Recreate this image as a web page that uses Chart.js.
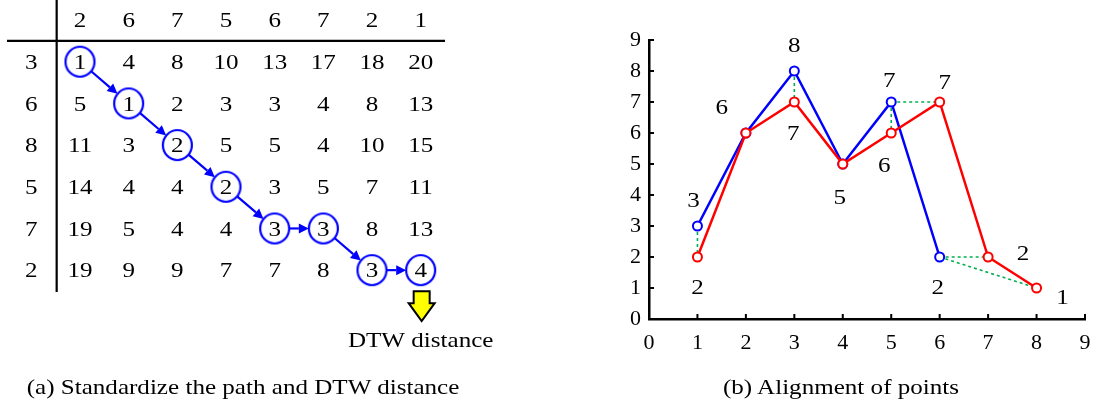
<!DOCTYPE html>
<html>
<head>
<meta charset="utf-8">
<script src="https://cdn.jsdelivr.net/npm/chart.js@4/dist/chart.umd.min.js"></script>
<style>
  html, body { margin: 0; padding: 0; background: #fff; }
  #wrap { position: relative; width: 1096px; height: 405px; overflow: hidden; background: #fff; }
  #dtwTable { position: absolute; left: 0; top: 0; }
  #alignChart { position: absolute; left: 600px; top: 0; }
  .caption {
    position: absolute; top: 373px; font-family: "Liberation Serif", "Times New Roman", serif;
    font-size: 22px; color: #000; white-space: nowrap; line-height: 28px;
    transform: translateX(-50%) scaleX(1.14); transform-origin: center;
  }
</style>
</head>
<body>
<div id="wrap">
  <canvas id="dtwTable" width="500" height="405"></canvas>
  <canvas id="alignChart" width="496" height="405"></canvas>
  <div class="caption" style="left:243px">(a) Standardize the path and DTW distance</div>
  <div class="caption" style="left:841px">(b) Alignment of points</div>
</div>
<script>
// Two sequences compared by dynamic time warping
const seriesA = [3, 6, 8, 5, 7, 2];          // rows of the matrix, blue line
const seriesB = [2, 6, 7, 5, 6, 7, 2, 1];    // columns of the matrix, red line

// Accumulated distance matrix, one array per row of seriesA
const costRow1 = [1, 4, 8, 10, 13, 17, 18, 20];
const costRow2 = [5, 1, 2, 3, 3, 4, 8, 13];
const costRow3 = [11, 3, 2, 5, 5, 4, 10, 15];
const costRow4 = [14, 4, 4, 2, 3, 5, 7, 11];
const costRow5 = [19, 5, 4, 4, 3, 3, 8, 13];
const costRow6 = [19, 9, 9, 7, 7, 8, 3, 4];
const costRows = [costRow1, costRow2, costRow3, costRow4, costRow5, costRow6];

// Warping path as [row, column] cells (1-based)
const pathRows = [1, 2, 3, 4, 5, 5, 6, 6];
const pathCols = [1, 2, 3, 4, 5, 6, 7, 8];

const axisTicks = [0, 1, 2, 3, 4, 5, 6, 7, 8, 9];
const resultLabel = 'DTW distance';

const SERIF = '"Liberation Serif", "Times New Roman", serif';
const TEXT_STRETCH = 1.14;
const BLUE = '#0000ff', RED = '#ff0000', GREEN = '#00b050';

function stretchedText(ctx, text, x, y, align) {
  ctx.save();
  ctx.translate(x, y);
  ctx.scale(TEXT_STRETCH, 1);
  ctx.textAlign = align || 'center';
  ctx.textBaseline = 'alphabetic';
  ctx.fillText(text, 0, 0);
  ctx.restore();
}

// ---------- (a) accumulated distance matrix ----------
const RX = 14.5, RY = 15;
function ellipseSprite() {
  const c = document.createElement('canvas');
  c.width = 2 * RX + 4; c.height = 2 * RY + 4;
  const g = c.getContext('2d');
  g.strokeStyle = BLUE; g.lineWidth = 2.2;
  g.beginPath();
  g.ellipse(c.width / 2, c.height / 2, RX, RY, 0, 0, Math.PI * 2);
  g.stroke();
  return c;
}

const matrixPlugin = {
  id: 'matrixPlugin',
  beforeDatasetsDraw(chart) {
    const { ctx, chartArea, scales: { x, y } } = chart;
    ctx.save();
    ctx.fillStyle = '#000';
    ctx.font = '22px ' + SERIF;
    const half = 7.3;
    // column headers (seriesB) and row headers (seriesA)
    seriesB.forEach((v, j) => stretchedText(ctx, String(v), x.getPixelForValue(j + 1), y.getPixelForValue(0) + half));
    seriesA.forEach((v, i) => stretchedText(ctx, String(v), x.getPixelForValue(0), y.getPixelForValue(i + 1) + half));
    costRows.forEach((row, i) => row.forEach((v, j) =>
      stretchedText(ctx, String(v), x.getPixelForValue(j + 1), y.getPixelForValue(i + 1) + half)));
    // separating rules
    ctx.strokeStyle = '#000'; ctx.lineWidth = 2.2;
    const vx = (x.getPixelForValue(0) + x.getPixelForValue(1)) / 2 + 1;
    const hy = (y.getPixelForValue(0) + y.getPixelForValue(1)) / 2;
    ctx.beginPath();
    ctx.moveTo(vx, chartArea.top); ctx.lineTo(vx, chartArea.bottom + 1);
    ctx.moveTo(chartArea.left, hy); ctx.lineTo(chartArea.right, hy);
    ctx.stroke();
    ctx.restore();
  },
  afterDatasetsDraw(chart) {
    const { ctx, scales: { x, y } } = chart;
    const pts = chart.getDatasetMeta(0).data;
    ctx.save();
    ctx.strokeStyle = BLUE; ctx.fillStyle = BLUE; ctx.lineWidth = 2.2;
    for (let k = 0; k + 1 < pts.length; k++) {
      const a = pts[k], b = pts[k + 1];
      let dx = b.x - a.x, dy = b.y - a.y;
      const len = Math.hypot(dx, dy); dx /= len; dy /= len;
      const t = 1 / Math.sqrt((dx / RX) ** 2 + (dy / RY) ** 2);
      const sx = a.x + dx * t, sy = a.y + dy * t;
      const ex = b.x - dx * t, ey = b.y - dy * t;
      const head = 10, w = 5;
      const bx = ex - dx * head, by = ey - dy * head;
      ctx.beginPath(); ctx.moveTo(sx, sy); ctx.lineTo(bx, by); ctx.stroke();
      ctx.beginPath();
      ctx.moveTo(ex, ey);
      ctx.lineTo(bx - dy * w, by + dx * w);
      ctx.lineTo(bx + dy * w, by - dx * w);
      ctx.closePath(); ctx.fill();
    }
    // block arrow pointing to the final accumulated distance
    const last = pts[pts.length - 1];
    const cx = last.x + 1, top = y.getPixelForValue(pathRows[pathRows.length - 1]) + 21;
    ctx.beginPath();
    ctx.moveTo(cx - 8, top); ctx.lineTo(cx + 8, top); ctx.lineTo(cx + 8, top + 12);
    ctx.lineTo(cx + 13, top + 12); ctx.lineTo(cx, top + 30); ctx.lineTo(cx - 13, top + 12);
    ctx.lineTo(cx - 8, top + 12); ctx.closePath();
    ctx.fillStyle = '#ffff00'; ctx.fill();
    ctx.strokeStyle = '#000'; ctx.lineWidth = 2; ctx.stroke();
    ctx.fillStyle = '#000'; ctx.font = '22px ' + SERIF;
    stretchedText(ctx, resultLabel, cx - 1, top + 56);
    ctx.restore();
  }
};

new Chart(document.getElementById('dtwTable'), {
  type: 'scatter',
  data: {
    datasets: [{
      data: pathRows.map((r, k) => ({ x: pathCols[k], y: r })),
      pointStyle: ellipseSprite(),
      pointRadius: 15,
      showLine: false,
      clip: false
    }]
  },
  options: {
    responsive: false, animation: false, devicePixelRatio: 1,
    layout: { autoPadding: false, padding: { left: 7, right: 55, top: 0, bottom: 114 } },
    plugins: { legend: { display: false }, tooltip: { enabled: false } },
    scales: {
      x: { type: 'linear', min: -0.5, max: 8.5, display: false },
      y: { type: 'linear', min: -0.48, max: 6.5, reverse: true, display: false }
    }
  },
  plugins: [matrixPlugin]
});

// ---------- (b) point alignment ----------
// label offsets in px relative to each point; null = no label
const labelOffsetsA = [[-4, -26], [-24, -26], [0, -26], [-3, 33], [-2, -22], [-2, 30]];
const labelOffsetsB = [[0, 30], null, [-1, 31], null, [-7, 32], [5, -20], [35, -4], [26, 9]];

const alignData = [];
pathRows.forEach((r, k) => {
  const c = pathCols[k];
  alignData.push({ x: r, y: seriesA[r - 1] }, { x: c, y: seriesB[c - 1] }, { x: c, y: null });
});

const tickPlugin = {
  id: 'tickPlugin',
  afterDraw(chart) {
    const { ctx, chartArea, scales: { x, y } } = chart;
    ctx.save();
    ctx.strokeStyle = '#000'; ctx.lineWidth = 2;
    ctx.beginPath();
    axisTicks.forEach(v => {
      if (v === 0) return;
      const px = x.getPixelForValue(v);
      ctx.moveTo(px, chartArea.bottom); ctx.lineTo(px, chartArea.bottom - 5);
      const py = y.getPixelForValue(v);
      ctx.moveTo(chartArea.left, py); ctx.lineTo(chartArea.left + 5, py);
    });
    ctx.stroke();
    ctx.restore();
  },
  afterDatasetsDraw(chart) {
    const { ctx } = chart;
    ctx.save();
    ctx.fillStyle = '#000'; ctx.font = '22px ' + SERIF;
    const put = (dsIndex, values, offsets) => {
      const pts = chart.getDatasetMeta(dsIndex).data;
      values.forEach((v, i) => {
        const o = offsets[i];
        if (!o) return;
        stretchedText(ctx, String(v), pts[i].x + o[0], pts[i].y + o[1] + 7.3);
      });
    };
    put(0, seriesA, labelOffsetsA);
    put(1, seriesB, labelOffsetsB);
    ctx.restore();
  }
};

new Chart(document.getElementById('alignChart'), {
  type: 'line',
  data: {
    datasets: [
      {
        label: 'A', data: seriesA.map((v, i) => ({ x: i + 1, y: v })),
        borderColor: BLUE, borderWidth: 2.5, pointRadius: 4.5, pointBorderWidth: 2,
        pointBackgroundColor: '#fff', pointBorderColor: BLUE, order: 2
      },
      {
        label: 'B', data: seriesB.map((v, i) => ({ x: i + 1, y: v })),
        borderColor: RED, borderWidth: 2.5, pointRadius: 4.5, pointBorderWidth: 2,
        pointBackgroundColor: '#fff', pointBorderColor: RED, order: 1
      },
      {
        label: 'align', data: alignData, borderColor: GREEN, borderWidth: 1.6,
        borderDash: [3, 3], pointRadius: 0, spanGaps: false, order: 3
      }
    ]
  },
  options: {
    responsive: false, animation: false, devicePixelRatio: 1,
    layout: { autoPadding: false, padding: { left: 0, right: 11, top: 40, bottom: 46 } },
    plugins: { legend: { display: false }, tooltip: { enabled: false } },
    scales: {
      x: {
        type: 'linear', min: 0, max: 9,
        afterFit: s => { s.height = 40; s.paddingRight = 0; s.paddingLeft = 0; },
        grid: { display: false, drawTicks: false },
        border: { display: true, color: '#000', width: 2.5 },
        ticks: { stepSize: 1, padding: 11, color: '#000', font: { family: SERIF, size: 22 } }
      },
      y: {
        type: 'linear', min: 0, max: 9,
        afterFit: s => { s.width = 49; },
        grid: { display: false, drawTicks: false },
        border: { display: true, color: '#000', width: 2.5 },
        ticks: { stepSize: 1, padding: 8, color: '#000', font: { family: SERIF, size: 22 } }
      }
    }
  },
  plugins: [tickPlugin]
});
</script>
</body>
</html>
